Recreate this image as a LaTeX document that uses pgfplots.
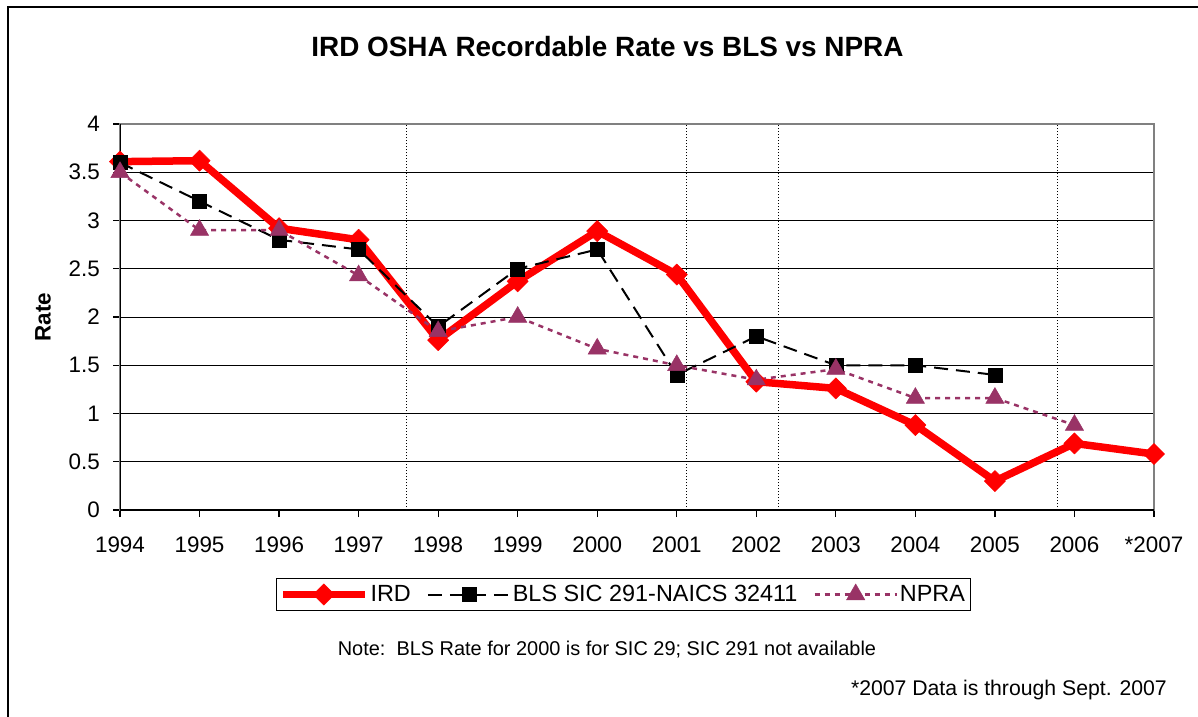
\documentclass[border=0pt]{standalone}
\usepackage{fontspec}
\setmainfont{Liberation Sans}
\usepackage{pgfplots}
\pgfplotsset{compat=1.18}
\definecolor{npra}{RGB}{153,51,102}
\newcommand{\basefont}{\fontsize{22.5}{27}\selectfont}
\begin{document}
\begin{tikzpicture}
\useasboundingbox (0,0) rectangle (1198bp,-717bp);
\draw[line width=1.5bp] (8bp,-717bp) -- (8bp,-7bp) -- (1198bp,-7bp);
\node[font=\fontsize{28}{33}\selectfont\bfseries, anchor=base, inner sep=0pt] at (607.5bp,-56bp) {IRD OSHA Recordable Rate vs BLS vs NPRA};
\node[font=\fontsize{20}{24}\selectfont, anchor=base, inner sep=0pt] at (607bp,-655bp) {Note:\ \ BLS Rate for 2000 is for SIC 29; SIC 291 not available};
\node[font=\fontsize{21.3}{25}\selectfont, anchor=base east, inner sep=0pt] at (1167bp,-695bp) {*2007 Data is through Sept. 2007};
\node[font=\basefont\bfseries, rotate=90, anchor=center, inner sep=0pt] at (43bp,-317bp) {Rate};
\begin{axis}[
  at={(120bp,-510bp)}, anchor=south west,
  scale only axis, width=1034bp, height=386bp,
  xmin=0, xmax=13, ymin=0, ymax=4,
  xtick={0,1,2,3,4,5,6,7,8,9,10,11,12,13},
  xticklabels={1994,1995,1996,1997,1998,1999,2000,2001,2002,2003,2004,2005,2006,*2007},
  ytick={0,0.5,1,1.5,2,2.5,3,3.5,4},
  yticklabels={0,0.5,1,1.5,2,2.5,3,3.5,4},
  tick pos=left,
  tick align=outside,
  major tick length=7bp,
  tick style={black, line width=1.2bp},
  axis line style={draw=gray, line width=1.5bp},
  ymajorgrids,
  grid style={black, line width=1bp},
  xticklabel style={font=\basefont, inner sep=0pt, text height=16bp, anchor=north, yshift=-19bp},
  yticklabel style={font=\basefont, inner sep=0pt, anchor=east, xshift=-13bp},
  legend columns=3,
  legend image code/.code={\draw[mark repeat=2, mark phase=2, #1] plot coordinates {(0bp,0bp) (41bp,0bp) (82bp,0bp)};},
  legend style={at={(0.4865,-0.2189)}, anchor=center, draw=black, line width=1bp,
    font=\fontsize{23.5}{28}\selectfont, inner xsep=3bp, inner ysep=5bp,
    nodes={inner sep=2bp},
    /tikz/every even column/.append style={column sep=14bp}},
]
\draw[black, line width=1.2bp, dash pattern=on 1.5bp off 1.5bp] (axis cs:3.6,0) -- (axis cs:3.6,4);
\draw[black, line width=1.2bp, dash pattern=on 1.5bp off 1.5bp] (axis cs:7.12,0) -- (axis cs:7.12,4);
\draw[black, line width=1.2bp, dash pattern=on 1.5bp off 1.5bp] (axis cs:8.28,0) -- (axis cs:8.28,4);
\draw[black, line width=1.2bp, dash pattern=on 1.5bp off 1.5bp] (axis cs:11.79,0) -- (axis cs:11.79,4);
\draw[black, line width=1.5bp] (rel axis cs:0,1) -- (rel axis cs:0,0) -- (rel axis cs:1,0);
\addplot[red, line width=7.5bp, line join=round, mark=square*, mark size=7.5bp, mark options={rotate=45, solid, line width=0.5bp}]
coordinates {(0,3.61) (1,3.62) (2,2.92) (3,2.80) (4,1.76) (5,2.37) (6,2.89) (7,2.44) (8,1.33) (9,1.26) (10,0.88) (11,0.30) (12,0.69) (13,0.58)};
\addlegendentry{IRD}
\addplot[black, line width=2bp, dash pattern=on 14bp off 8bp, mark=square*, mark size=7bp, mark options={solid, line width=0.5bp}]
coordinates {(0,3.6) (1,3.2) (2,2.8) (3,2.7) (4,1.9) (5,2.5) (6,2.7) (7,1.4) (8,1.8) (9,1.5) (10,1.5) (11,1.4)};
\addlegendentry{BLS SIC 291-NAICS 32411}
\addplot[npra, line width=2.5bp, dash pattern=on 5bp off 5bp, mark=triangle*, mark size=10.5bp, mark options={solid, line width=0.5bp}]
coordinates {(0,3.5) (1,2.9) (2,2.9) (3,2.43) (4,1.85) (5,2.0) (6,1.67) (7,1.5) (8,1.35) (9,1.46) (10,1.16) (11,1.16) (12,0.88)};
\addlegendentry{NPRA}
\end{axis}
\end{tikzpicture}
\end{document}
